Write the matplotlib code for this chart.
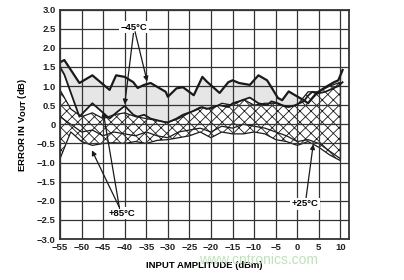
import matplotlib as mpl
mpl.use('Agg')
from matplotlib import pyplot as plt
import numpy as np

# -45 C curves (upper and lower edge of the grey band)
x_m45 = [-55, -54, -50.5, -47.5, -43.5, -42, -40, -38, -37, -35.5, -34, -30.5,
         -30, -28, -26.5, -24, -22, -21, -18, -16, -15, -13.5, -11, -9, -7,
         -6, -4.5, -3.5, -2, -0.5, 1.5, 2.5, 3.5, 4.5, 6.5, 8.5, 9.5, 10.5]
m45_hi = [1.62, 1.68, 1.08, 1.28, 0.9, 1.28, 1.24, 1.1, 0.95, 1.03, 1.08, 0.85,
          0.72, 0.94, 0.97, 0.76, 1.24, 1.12, 0.82, 1.1, 1.15, 1.08, 1.03, 1.28,
          1.15, 0.97, 0.69, 0.63, 0.86, 0.76, 0.63, 0.55, 0.69, 0.82, 0.97, 1.1,
          1.15, 1.42]
m45_lo = [1.5, 1.3, 0.2, 0.55, 0.15, 0.3, 0.48, 0.25, 0.2, 0.25, 0.15, 0.05,
          0.05, 0.15, 0.25, 0.35, 0.45, 0.4, 0.5, 0.45, 0.55, 0.6, 0.7, 0.55,
          0.5, 0.6, 0.55, 0.5, 0.45, 0.5, 0.6, 0.75, 0.85, 0.8, 0.85, 0.95,
          1.0, 1.1]

# +25 C and +85 C hatched bands
x_band = [-55, -52.5, -50, -47.5, -45, -42.5, -40, -37.5, -35, -32.5, -30,
          -27.5, -25, -22.5, -20, -17.5, -15, -12.5, -10, -7.5, -5, -2.5, 0,
          2.5, 5, 7.5, 10]
p25_hi = [0.9, 0.4, 0.2, 0.3, 0.15, 0.25, 0.3, 0.2, 0.15, 0.1, 0.05, 0.15,
          0.3, 0.45, 0.4, 0.55, 0.5, 0.65, 0.5, 0.55, 0.55, 0.45, 0.5, 0.85,
          0.85, 1.0, 1.1]
p25_lo = [0.2, 0.0, -0.2, -0.15, -0.3, -0.2, -0.25, -0.3, -0.2, -0.3, -0.35,
          -0.2, -0.15, -0.1, -0.2, -0.05, -0.1, 0.0, -0.05, -0.1, -0.2, -0.3,
          -0.45, -0.4, -0.5, -0.7, -0.9]
p85_hi = [0.4, 0.1, -0.05, 0.05, -0.1, 0.0, 0.05, -0.05, 0.0, -0.1, -0.15,
          -0.05, 0.05, 0.1, 0.05, 0.2, 0.1, 0.25, 0.2, 0.1, 0.05, 0.0, 0.1,
          0.3, 0.2, 0.2, 0.3]
p85_lo = [-0.9, -0.2, -0.45, -0.55, -0.5, -0.48, -0.5, -0.45, -0.5, -0.42,
          -0.4, -0.35, -0.3, -0.2, -0.35, -0.2, -0.25, -0.25, -0.2, -0.25,
          -0.4, -0.45, -0.55, -0.45, -0.6, -0.8, -0.95]

x_ticks = list(range(-55, 11, 5))
y_ticks = [3.0, 2.5, 2.0, 1.5, 1.0, 0.5, 0, -0.5, -1.0, -1.5, -2.0, -2.5, -3.0]
y_tick_labels = ['3.0', '2.5', '2.0', '1.5', '1.0', '0.5', '0', '\u22120.5',
                 '\u22121.0', '\u22121.5', '\u22122.0', '\u22122.5', '\u22123.0']

plt.rcParams['font.family'] = ['Liberation Sans', 'DejaVu Sans']
plt.rcParams['hatch.linewidth'] = 0.6

fig = plt.figure(figsize=(4.04, 2.80), dpi=100)
ax = fig.add_axes([0.1485, 0.146, 0.7155, 0.820])

ink = '#1a1a1a'

# grey band for -45 C
ax.fill_between(x_m45, m45_lo, m45_hi, where=np.array(m45_hi) >= np.array(m45_lo),
                interpolate=True, facecolor='#e6e6e6', edgecolor='none', zorder=1)

# hatched bands
for lo, hi in [(p85_lo, p85_hi), (p25_lo, p25_hi)]:
    ax.fill_between(x_band, lo, hi, facecolor='white', edgecolor=ink,
                    hatch='xxx', linewidth=0.9, zorder=2)

ax.plot(x_m45, m45_hi, color=ink, lw=1.6, zorder=3)
ax.plot(x_m45, m45_lo, color=ink, lw=1.3, zorder=3)

ax.set_xlim(-55, 12)
ax.set_ylim(-3.0, 3.0)
ax.set_xticks(x_ticks)
ax.set_xticklabels([str(t).replace('-', '\u2212') for t in x_ticks])
ax.set_yticks(y_ticks)
ax.set_yticklabels(y_tick_labels)
ax.tick_params(length=0, labelsize=6.8, pad=3, colors='#222222')
for lab in ax.get_xticklabels() + ax.get_yticklabels():
    lab.set_fontweight('bold')

ax.set_axisbelow(False)
ax.grid(True, color='#333333', lw=0.9)
for sp in ax.spines.values():
    sp.set_color('#333333')
    sp.set_linewidth(1.3)
    sp.set_zorder(4)

ax.set_xlabel('INPUT AMPLITUDE (dBm)', fontsize=6.8, fontweight='bold',
              labelpad=6)
ax.set_ylabel('ERROR IN V$_{\\mathbf{OUT}}$ (dB)', fontsize=6.8,
              fontweight='bold', labelpad=6)

label_box = dict(boxstyle='square,pad=0.15', fc='white', ec='none')
arrow = dict(arrowstyle='-|>', color=ink, lw=0.9, mutation_scale=7,
             shrinkA=0, shrinkB=0)

ax.annotate('\u221245\u00b0C', xy=(-40, 0.52), xytext=(-37.8, 2.54),
            fontsize=6.8, fontweight='bold', ha='center', va='center',
            bbox=label_box, arrowprops=arrow, zorder=5)
ax.annotate('', xy=(-34.8, 1.12), xytext=(-37.6, 2.42),
            arrowprops=arrow, zorder=5)

ax.annotate('+85\u00b0C', xy=(-47.6, -0.68), xytext=(-40.6, -2.32),
            fontsize=6.8, fontweight='bold', ha='center', va='center',
            bbox=label_box, arrowprops=arrow, zorder=5)
ax.annotate('', xy=(-45, 0.33), xytext=(-41.2, -2.2),
            arrowprops=arrow, zorder=5)

ax.annotate('+25\u00b0C', xy=(3.7, -0.52), xytext=(1.85, -2.08),
            fontsize=6.8, fontweight='bold', ha='center', va='center',
            bbox=label_box, arrowprops=arrow, zorder=5)

# faint source watermark
fig.text(0.64, 0.072, 'www.cntronics.com', color='#bfe2ba', fontsize=10,
         ha='center', va='center', zorder=0)

fig.savefig('out.png', dpi=100)
